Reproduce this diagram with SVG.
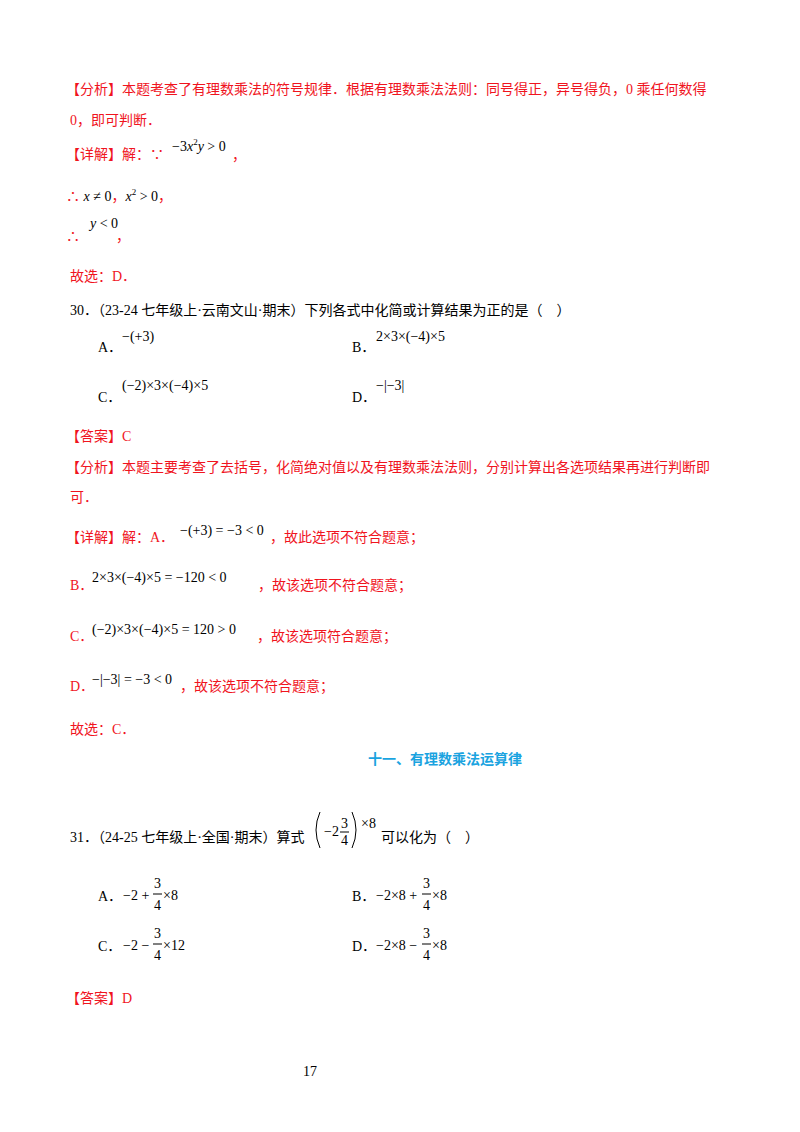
<svg xmlns="http://www.w3.org/2000/svg" width="800" height="1132" viewBox="0 0 800 1132">
<style>
text{font-family:"Liberation Serif","Noto Sans CJK SC",serif;font-size:14px;fill:#000}
.r{fill:#f0141e}
.mi{font-family:"Liberation Serif",serif;font-style:italic}
.h{fill:#1aa3e0;font-weight:bold;font-family:"Noto Sans CJK SC",sans-serif}
.s{font-size:9px}
</style>
<rect width="800" height="1132" fill="#fff"/>
<text class="r" x="66" y="94">【分析】本题考查了有理数乘法的符号规律．根据有理数乘法法则：同号得正，异号得负，0 乘任何数得</text>
<text class="r" x="70" y="125">0，即可判断．</text>
<text class="r" x="66" y="159">【详解】解：∵</text>
<text x="172" y="151">−3<tspan class="mi">x</tspan><tspan class="s" dy="-6">2</tspan><tspan class="mi" dy="6">y</tspan> &gt; 0</text>
<text class="r" x="232" y="160">，</text>
<text class="r" x="66" y="201">∴ <tspan fill="#000" class="mi">x</tspan><tspan fill="#000"> ≠ 0</tspan>，<tspan fill="#000" class="mi">x</tspan><tspan fill="#000" class="s" dy="-6">2</tspan><tspan fill="#000" dy="6"> &gt; 0</tspan>，</text>
<text class="r" x="66" y="241">∴</text>
<text x="90" y="228"><tspan class="mi">y</tspan> &lt; 0</text>
<text class="r" x="116" y="241">，</text>
<text class="r" x="70" y="281">故选：D．</text>

<text x="70" y="315">30．（23-24 七年级上·云南文山·期末）下列各式中化简或计算结果为正的是（　）</text>
<text x="98" y="352">A．</text><text x="122" y="341">−(+3)</text>
<text x="352" y="352">B．</text><text x="376" y="341">2×3×(−4)×5</text>
<text x="98" y="402">C．</text><text x="122" y="390">(−2)×3×(−4)×5</text>
<text x="352" y="402">D．</text><text x="376" y="390">−|−3|</text>

<text class="r" x="66" y="441">【答案】C</text>
<text class="r" x="66" y="472">【分析】本题主要考查了去括号，化简绝对值以及有理数乘法法则，分别计算出各选项结果再进行判断即</text>
<text class="r" x="70" y="502">可．</text>
<text class="r" x="66" y="542">【详解】解：A．</text>
<text x="180" y="535">−(+3) = −3 &lt; 0</text>
<text class="r" x="270" y="542">，故此选项不符合题意；</text>
<text class="r" x="70" y="590">B．</text>
<text x="92" y="582">2×3×(−4)×5 = −120 &lt; 0</text>
<text class="r" x="258" y="590">，故该选项不符合题意；</text>
<text class="r" x="70" y="641">C．</text>
<text x="92" y="634">(−2)×3×(−4)×5 = 120 &gt; 0</text>
<text class="r" x="257" y="641">，故该选项符合题意；</text>
<text class="r" x="70" y="691">D．</text>
<text x="92" y="684">−|−3| = −3 &lt; 0</text>
<text class="r" x="180" y="691">，故该选项不符合题意；</text>
<text class="r" x="70" y="734">故选：C．</text>

<text class="h" x="368" y="764">十一、有理数乘法运算律</text>

<text x="70" y="842">31．（24-25 七年级上·全国·期末）算式</text>
<path d="M320 812 Q312 830 320 848" fill="none" stroke="#000"/>
<text x="324" y="836">−2</text>
<text x="341" y="828">3</text><line x1="340" y1="832" x2="349" y2="832" stroke="#000"/><text x="341" y="845">4</text>
<path d="M352 812 Q360 830 352 848" fill="none" stroke="#000"/>
<text x="361" y="828">×8</text>
<text x="381" y="842">可以化为（　）</text>

<text x="98" y="901">A．</text>
<text x="123" y="900">−2 +</text><text x="154" y="888">3</text><line x1="153" y1="894" x2="162" y2="894" stroke="#000"/><text x="154" y="910">4</text><text x="163" y="900">×8</text>
<text x="352" y="901">B．</text>
<text x="376" y="900">−2×8 +</text><text x="423" y="888">3</text><line x1="422" y1="894" x2="431" y2="894" stroke="#000"/><text x="423" y="910">4</text><text x="432" y="900">×8</text>
<text x="98" y="951">C．</text>
<text x="123" y="950">−2 −</text><text x="154" y="938">3</text><line x1="153" y1="944" x2="162" y2="944" stroke="#000"/><text x="154" y="960">4</text><text x="163" y="950">×12</text>
<text x="352" y="951">D．</text>
<text x="376" y="950">−2×8 −</text><text x="423" y="938">3</text><line x1="422" y1="944" x2="431" y2="944" stroke="#000"/><text x="423" y="960">4</text><text x="432" y="950">×8</text>

<text class="r" x="66" y="1003">【答案】D</text>
<text x="303" y="1076">17</text>
</svg>
